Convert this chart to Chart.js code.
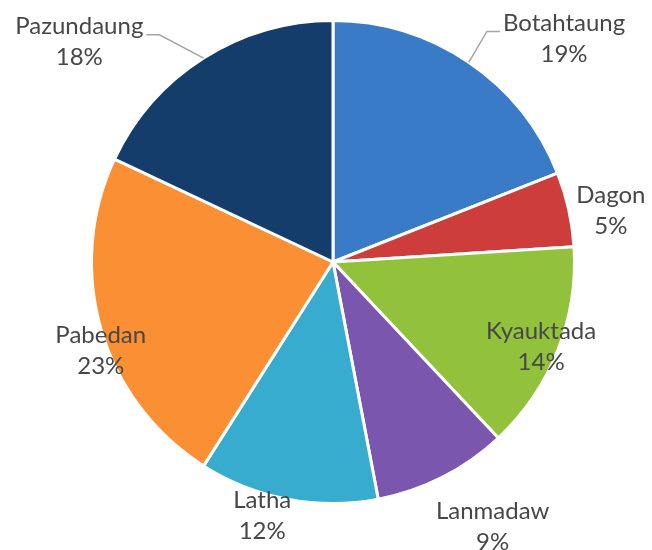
<!DOCTYPE html>
<html>
<head>
<meta charset="utf-8">
<script src="https://cdn.jsdelivr.net/npm/chart.js@4"></script>
<style>
  html, body { margin: 0; padding: 0; background: #ffffff; }
  #wrap { width: 652px; height: 550px; }
</style>
</head>
<body>
<div id="wrap"><canvas id="pieChart" width="652" height="550"></canvas></div>
<script>
const townships = ['Botahtaung', 'Dagon', 'Kyauktada', 'Lanmadaw', 'Latha', 'Pabedan', 'Pazundaung'];
const shares = [19, 5, 14, 9, 12, 23, 18];
const sliceColors = ['#3a7bc8', '#cc3d3b', '#92c13c', '#7b56ae', '#38acce', '#fa8f33', '#143d6b'];

// label placement per slice: [angle shift from slice middle (deg), distance as fraction of radius, leader side]
const labelPlacement = [
  [11.8, 1.33, 'left'],
  [2.2, 1.17, null],
  [0.5, 0.93, null],
  [-4.1, 1.28, null],
  [4.8, 1.09, null],
  [-4.8, 1.03, null],
  [-16.7, 1.39, 'right'],
];

const FONT = '24px Lato, "Open Sans", sans-serif';
const LINE_GAP = 31;

const pieLabels = {
  id: 'pieLabels',
  afterDatasetsDraw(chart) {
    const { ctx } = chart;
    const arcs = chart.getDatasetMeta(0).data;
    ctx.save();
    ctx.font = FONT;
    ctx.textAlign = 'center';
    ctx.textBaseline = 'middle';
    arcs.forEach((arc, i) => {
      const { x, y, startAngle, endAngle, outerRadius } = arc.getProps(['x', 'y', 'startAngle', 'endAngle', 'outerRadius'], true);
      const mid = (startAngle + endAngle) / 2;
      const [shift, factor, side] = labelPlacement[i];
      const a = mid + shift * Math.PI / 180;
      const lx = x + Math.cos(a) * outerRadius * factor;
      const ly = y + Math.sin(a) * outerRadius * factor;
      const name = townships[i];
      const pct = shares[i] + '%';
      const nameY = ly - LINE_GAP / 2;

      if (side) {
        const w = ctx.measureText(name).width;
        const edge = side === 'left' ? lx - w / 2 - 3 : lx + w / 2 + 3;
        const dir = side === 'left' ? -1 : 1;
        const yy = nameY + 8;
        ctx.beginPath();
        ctx.moveTo(x + Math.cos(mid) * outerRadius, y + Math.sin(mid) * outerRadius);
        ctx.lineTo(edge + dir * 13, yy);
        ctx.lineTo(edge, yy);
        ctx.strokeStyle = '#a5a5a5';
        ctx.lineWidth = 1.5;
        ctx.stroke();
      }

      ctx.fillStyle = '#474747';
      ctx.fillText(name, lx, nameY);
      ctx.fillText(pct, lx, ly + LINE_GAP / 2);
    });
    ctx.restore();
  }
};

new Chart(document.getElementById('pieChart'), {
  type: 'pie',
  data: {
    labels: townships,
    datasets: [
      {
        data: shares,
        backgroundColor: sliceColors,
        borderColor: '#ffffff',
        borderWidth: 3,
        hoverOffset: 0,
      },
    ],
  },
  options: {
    responsive: false,
    animation: false,
    layout: {
      padding: { top: 19, bottom: 45, left: 90, right: 76 },
    },
    plugins: {
      legend: { display: false },
      tooltip: { enabled: false },
    },
  },
  plugins: [pieLabels],
});
</script>
</body>
</html>
